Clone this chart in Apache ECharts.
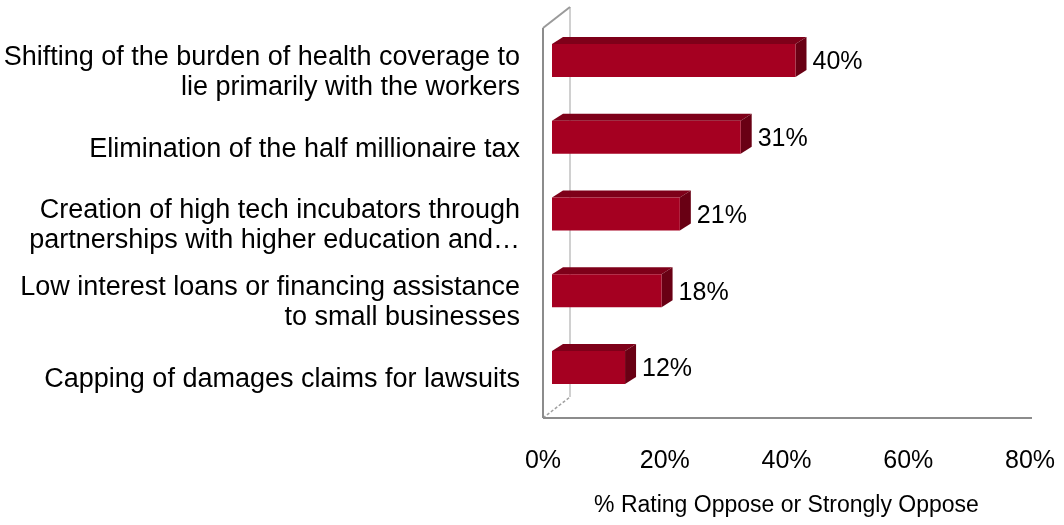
<!DOCTYPE html>
<html>
<head>
<meta charset="utf-8">
<script src="https://cdn.jsdelivr.net/npm/echarts@6/dist/echarts.min.js"></script>
<style>
  html, body { margin: 0; padding: 0; background: #fff; }
  #chart { width: 1064px; height: 525px; }
</style>
</head>
<body>
<div id="chart"></div>
<script>
// Survey items, top to bottom
const categories = [
  'Shifting of the burden of health coverage to\nlie primarily with the workers',
  'Elimination of the half millionaire tax',
  'Creation of high tech incubators through\npartnerships with higher education and\u2026',
  'Low interest loans or financing assistance\nto small businesses',
  'Capping of damages claims for lawsuits'
];
// Share rating each item Oppose or Strongly Oppose (%)
const values = [40, 31, 21, 18, 12];
const axisMax = 80;
const axisStep = 20;
const axisTitle = '% Rating Oppose or Strongly Oppose';

const FONT = '"Liberation Sans", Arial, sans-serif';
const FRONT = '#a50021';
const TOP = '#7e0019';
const SIDE = '#690014';

// bar geometry offsets (pixels) for the extruded look
const BAR_H = 33, BAR_SHIFT_X = 9, BAR_SHIFT_Y = -12, DX = 11, DY = -7;

function renderBar(params, api) {
  const v = api.value(0);
  const idx = api.value(1);
  const p0 = api.coord([0, idx]);
  const p1 = api.coord([v, idx]);
  const x0 = p0[0] + BAR_SHIFT_X, x1 = p1[0] + BAR_SHIFT_X;
  const cy = p0[1] + BAR_SHIFT_Y;
  const yt = cy - BAR_H / 2, yb = cy + BAR_H / 2;
  return {
    type: 'group',
    children: [
      { type: 'polygon', shape: { points: [[x0, yt], [x0 + DX, yt + DY], [x1 + DX, yt + DY], [x1, yt]] },
        style: { fill: TOP } },
      { type: 'polygon', shape: { points: [[x1, yt], [x1 + DX, yt + DY], [x1 + DX, yb + DY], [x1, yb]] },
        style: { fill: SIDE } },
      { type: 'rect', shape: { x: x0, y: yt, width: x1 - x0, height: BAR_H },
        style: { fill: FRONT } },
      { type: 'text', style: { text: v + '%', x: x1 + DX + 6, y: cy + 2, fill: '#000',
        font: '25px ' + FONT, verticalAlign: 'middle', align: 'left' } }
    ]
  };
}

function renderFrame(params, api) {
  const cs = params.coordSys;
  const left = cs.x, bottom = cs.y + cs.height, right = cs.x + cs.width;
  const top = cs.y - 6;
  const bx = 27, by = -21;
  const lineStyle = { stroke: '#8c8c8c', lineWidth: 2 };
  return {
    type: 'group',
    children: [
      { type: 'line', shape: { x1: left + bx, y1: top + by, x2: left + bx, y2: bottom + by },
        style: { stroke: '#d0d0d0', lineWidth: 2 } },
      { type: 'line', shape: { x1: left, y1: bottom, x2: left + bx, y2: bottom + by },
        style: { stroke: '#a0a0a0', lineWidth: 1.5, lineDash: [3, 2] } },
      { type: 'line', shape: { x1: left, y1: top, x2: left + bx, y2: top + by },
        style: { stroke: '#9a9a9a', lineWidth: 2 } },
      { type: 'line', shape: { x1: left, y1: top, x2: left, y2: bottom }, style: lineStyle },
      { type: 'line', shape: { x1: left, y1: bottom, x2: right + 2, y2: bottom }, style: lineStyle }
    ]
  };
}

const chart = echarts.init(document.getElementById('chart'), null, { renderer: 'canvas' });
chart.setOption({
  animation: false,
  backgroundColor: '#fff',
  grid: { left: 543, top: 34, width: 487, height: 384, containLabel: false },
  xAxis: {
    type: 'value', min: 0, max: axisMax, interval: axisStep,
    axisLine: { show: false }, axisTick: { show: false }, splitLine: { show: false },
    axisLabel: { formatter: '{value}%', color: '#000', fontSize: 25, fontFamily: FONT, margin: 31 },
    name: axisTitle, nameLocation: 'middle', nameGap: 76,
    nameTextStyle: { color: '#000', fontSize: 23, fontFamily: FONT }
  },
  yAxis: {
    type: 'category', data: categories, inverse: true,
    axisLine: { show: false }, axisTick: { show: false }, splitLine: { show: false },
    axisLabel: { color: '#000', fontSize: 27, fontFamily: FONT, margin: 23, align: 'right', lineHeight: 30 }
  },
  series: [
    { type: 'custom', renderItem: renderFrame, data: [[0, 0]], encode: { x: 0, y: 1 }, silent: true, z: 1 },
    { type: 'custom', renderItem: renderBar, encode: { x: 0, y: 1 }, z: 2,
      data: values.map((v, i) => [v, i]) }
  ]
});
</script>
</body>
</html>
